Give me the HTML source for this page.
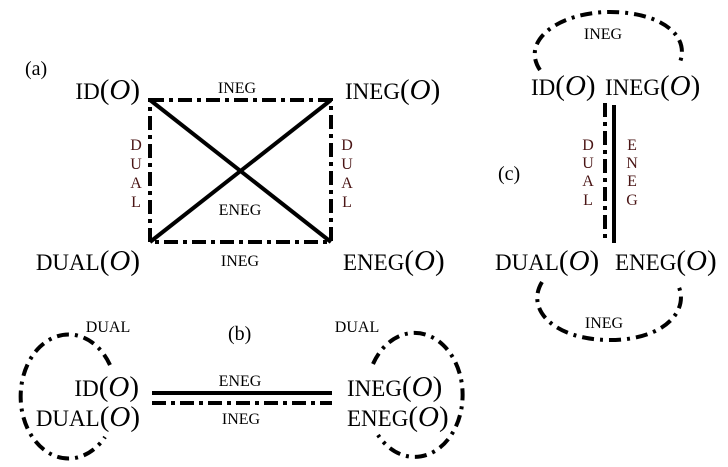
<!DOCTYPE html>
<html><head><meta charset="utf-8"><style>
html,body{margin:0;padding:0;background:#fff;}
svg{display:block;}
text{font-family:"Liberation Serif",serif;fill:#000;}
.big{font-size:23px;}
.o{font-size:29px;font-style:italic;}
.p{font-size:29px;}
.s{font-size:16px;}
.r{fill:#4a1515;}
</style></head><body>
<svg width="728" height="467" viewBox="0 0 728 467" xmlns="http://www.w3.org/2000/svg">
<g stroke="#000" fill="none" stroke-width="4">
 <path d="M150 100 H331 V242 H150 Z" stroke-dasharray="14 5 4 5"/>
 <line x1="150" y1="100" x2="331" y2="242"/>
 <line x1="331" y1="100" x2="150" y2="242"/>
 <line x1="152" y1="393" x2="332" y2="393"/>
 <line x1="152" y1="403" x2="332" y2="403" stroke-dasharray="14 5 4 5"/>
 <path d="M110 365 A48 62 0 1 0 105 437" stroke-dasharray="12 6 3 6"/>
 <path d="M373 364 A48 62 0 1 1 378 435" stroke-dasharray="12 6 3 6"/>
 <line x1="605" y1="103" x2="605" y2="243" stroke-dasharray="14 5 4 5"/>
 <line x1="614" y1="105" x2="614" y2="243"/>
 <path d="M540 70 C520 40 560 12 610 12 C660 12 690 35 680 62" stroke-dasharray="12 6 3 6"/>
 <path d="M542 282 C525 310 555 340 610 340 C665 340 690 310 678 285" stroke-dasharray="12 6 3 6"/>
</g>
<text x="25" y="75" style="font-size:20px">(a)</text>
<text x="140" y="99" class="big" text-anchor="end">ID<tspan class="p">(</tspan><tspan class="o">O</tspan><tspan class="p">)</tspan></text>
<text x="345" y="99" class="big">INEG<tspan class="p">(</tspan><tspan class="o">O</tspan><tspan class="p">)</tspan></text>
<text x="140" y="270" class="big" text-anchor="end">DUAL<tspan class="p">(</tspan><tspan class="o">O</tspan><tspan class="p">)</tspan></text>
<text x="343" y="270" class="big">ENEG<tspan class="p">(</tspan><tspan class="o">O</tspan><tspan class="p">)</tspan></text>
<text x="237" y="93" class="s" text-anchor="middle">INEG</text>
<text x="240" y="215" class="s" text-anchor="middle">ENEG</text>
<text x="240" y="266" class="s" text-anchor="middle">INEG</text>
<g text-anchor="middle">
<text x="136" y="150" class="s r">D</text><text x="136" y="169" class="s r">U</text><text x="136" y="188" class="s r">A</text><text x="136" y="207" class="s r">L</text>
<text x="347" y="150" class="s r">D</text><text x="347" y="169" class="s r">U</text><text x="347" y="188" class="s r">A</text><text x="347" y="207" class="s r">L</text>
</g>
<text x="228" y="340" style="font-size:20px">(b)</text>
<text x="108" y="332" class="s" text-anchor="middle">DUAL</text>
<text x="357" y="332" class="s" text-anchor="middle">DUAL</text>
<text x="139" y="396" class="big" text-anchor="end">ID<tspan class="p">(</tspan><tspan class="o">O</tspan><tspan class="p">)</tspan></text>
<text x="140" y="426" class="big" text-anchor="end">DUAL<tspan class="p">(</tspan><tspan class="o">O</tspan><tspan class="p">)</tspan></text>
<text x="347" y="396" class="big">INEG<tspan class="p">(</tspan><tspan class="o">O</tspan><tspan class="p">)</tspan></text>
<text x="347" y="426" class="big">ENEG<tspan class="p">(</tspan><tspan class="o">O</tspan><tspan class="p">)</tspan></text>
<text x="240" y="386" class="s" text-anchor="middle">ENEG</text>
<text x="241" y="424" class="s" text-anchor="middle">INEG</text>
<text x="498" y="180" style="font-size:20px">(c)</text>
<text x="603" y="39" class="s" text-anchor="middle">INEG</text>
<text x="604" y="328" class="s" text-anchor="middle">INEG</text>
<text x="531" y="95" class="big">ID<tspan class="p">(</tspan><tspan class="o">O</tspan><tspan class="p">)</tspan></text>
<text x="605" y="95" class="big">INEG<tspan class="p">(</tspan><tspan class="o">O</tspan><tspan class="p">)</tspan></text>
<text x="495" y="270" class="big">DUAL<tspan class="p">(</tspan><tspan class="o">O</tspan><tspan class="p">)</tspan></text>
<text x="615" y="270" class="big">ENEG<tspan class="p">(</tspan><tspan class="o">O</tspan><tspan class="p">)</tspan></text>
<g text-anchor="middle">
<text x="588" y="150" class="s r">D</text><text x="588" y="168" class="s r">U</text><text x="588" y="186" class="s r">A</text><text x="588" y="205" class="s r">L</text>
<text x="632" y="150" class="s r">E</text><text x="632" y="168" class="s r">N</text><text x="632" y="186" class="s r">E</text><text x="632" y="205" class="s r">G</text>
</g>
</svg>
</body></html>
